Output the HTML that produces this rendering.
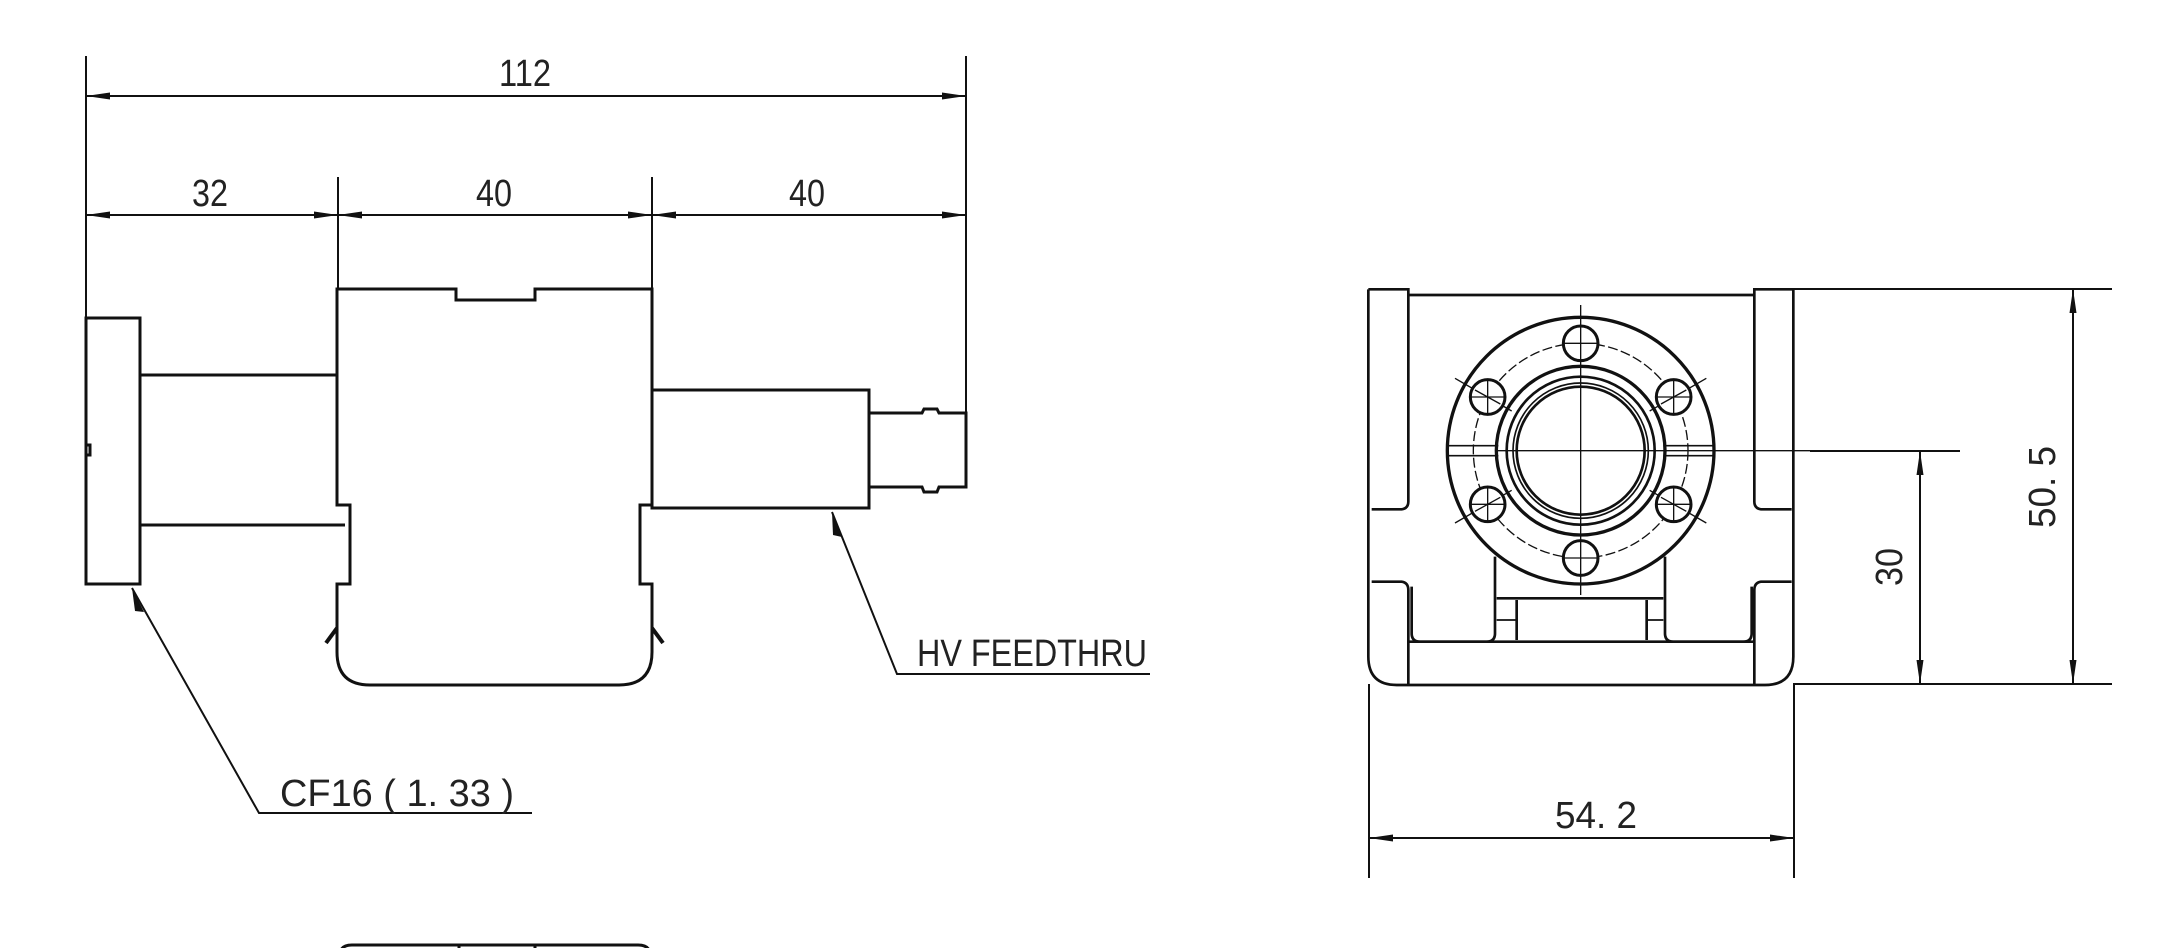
<!DOCTYPE html>
<html><head><meta charset="utf-8"><style>
html,body{margin:0;padding:0;background:#fff;}
svg{display:block;}
text{font-family:"Liberation Sans",sans-serif;fill:#222;}
</style></head><body>
<svg width="2180" height="948" viewBox="0 0 2180 948" xmlns="http://www.w3.org/2000/svg">
<defs>
<marker id="a" viewBox="0 0 24 8" refX="24" refY="4" markerWidth="24" markerHeight="8" markerUnits="userSpaceOnUse" orient="auto-start-reverse">
<path d="M0,0.5 L24,4 L0,7.5 Z" fill="#111"/></marker>
</defs>
<g stroke="#111" fill="none" stroke-width="2">
<line x1="86" y1="56" x2="86" y2="317"/>
<line x1="966" y1="56" x2="966" y2="487"/>
<line x1="86" y1="96" x2="966" y2="96" marker-start="url(#a)" marker-end="url(#a)"/>
<line x1="338" y1="177" x2="338" y2="289"/>
<line x1="652" y1="177" x2="652" y2="289"/>
<line x1="86" y1="215" x2="338" y2="215" marker-start="url(#a)" marker-end="url(#a)"/>
<line x1="338" y1="215" x2="652" y2="215" marker-start="url(#a)" marker-end="url(#a)"/>
<line x1="652" y1="215" x2="966" y2="215" marker-start="url(#a)" marker-end="url(#a)"/>
</g>
<g stroke="#111" fill="none" stroke-width="3">
<rect x="86" y="318" width="54" height="266"/>
<path d="M86,445 h4 v10 h-4"/>
<line x1="140" y1="375" x2="337" y2="375"/>
<line x1="140" y1="525" x2="345" y2="525"/>
<path d="M337,289 H456 V300 H535 V289 H652 V505 H640 V584 H652 V652 Q652,685 619,685 H370 Q337,685 337,652 V584 H350 V505 H337 Z"/>
<line x1="326" y1="643" x2="337" y2="628" stroke-width="4"/>
<line x1="663" y1="643" x2="652" y2="628" stroke-width="4"/>
<rect x="652" y="390" width="217" height="118"/>
<path d="M869,413 H922 L924,409 H937 L939,413 H966 V487 H939 L937,492 H924 L922,487 H869"/>
</g>
<g stroke="#111" fill="none" stroke-width="2">
<path d="M132,588 L259,813 H532"/>
<path d="M832,512 L897,674 H1150"/>
</g>
<path d="M132,588 l12,24 l-9,-1 z" fill="#111"/>
<path d="M832,512 l10,25 l-9,-2 z" fill="#111"/>
<g font-size="38">
<text x="525" y="86" text-anchor="middle" textLength="52" lengthAdjust="spacingAndGlyphs">112</text>
<text x="210" y="206" text-anchor="middle" textLength="36" lengthAdjust="spacingAndGlyphs">32</text>
<text x="494" y="206" text-anchor="middle" textLength="36" lengthAdjust="spacingAndGlyphs">40</text>
<text x="807" y="206" text-anchor="middle" textLength="36" lengthAdjust="spacingAndGlyphs">40</text>
<text x="917" y="666" textLength="230" lengthAdjust="spacingAndGlyphs">HV FEEDTHRU</text>
<text x="280" y="806" textLength="234" lengthAdjust="spacingAndGlyphs">CF16 ( 1. 33 )</text>
<text x="1596" y="828" text-anchor="middle" textLength="82" lengthAdjust="spacingAndGlyphs">54. 2</text>
<text transform="translate(2055,487) rotate(-90)" text-anchor="middle" textLength="82" lengthAdjust="spacingAndGlyphs">50. 5</text>
<text transform="translate(1902,567) rotate(-90)" text-anchor="middle" textLength="38" lengthAdjust="spacingAndGlyphs">30</text>
</g>
<g stroke="#111" fill="none" stroke-width="3">
<path d="M340,960 V955 Q340,945 352,945 H638 Q650,945 650,955 V960"/>
<line x1="459" y1="945" x2="459" y2="948"/>
<line x1="535" y1="945" x2="535" y2="948"/>
</g>
<g transform="translate(1350,280) scale(0.33333)" stroke="#111" fill="none" stroke-width="8">
<line x1="175" y1="45" x2="1213" y2="45"/>
<path d="M55,28 H175 V665 Q175,685 155,688 H65"/>
<path d="M65,905 H155 Q175,908 175,930 V1215"/>
<path d="M1330,28 H1213 V665 Q1213,685 1233,688 H1325"/>
<path d="M1325,905 H1233 Q1213,908 1213,930 V1215"/>
<path d="M55,28 V1130 Q55,1215 140,1215 H1245 Q1330,1215 1330,1130 V28"/>
<line x1="175" y1="1085" x2="1213" y2="1085"/>
<path d="M185,920 V1060 Q185,1085 210,1085 H410 Q435,1085 435,1060 V830"/>
<path d="M1205,920 V1060 Q1205,1085 1180,1085 H970 Q945,1085 945,1060 V830"/>
<line x1="440" y1="955" x2="940" y2="955"/>
<line x1="500" y1="960" x2="500" y2="1080"/>
<line x1="890" y1="960" x2="890" y2="1080"/>
<line x1="440" y1="1020" x2="500" y2="1020" stroke-width="5"/>
<line x1="890" y1="1020" x2="940" y2="1020" stroke-width="5"/>
<circle cx="692" cy="512" r="400" fill="#fff" stroke-width="10"/>
<circle cx="692" cy="512" r="322" stroke-width="4" stroke-dasharray="30 10"/>
<circle cx="692" cy="512" r="253" stroke-width="10"/>
<circle cx="692" cy="512" r="222"/>
<circle cx="692" cy="512" r="203" stroke-width="5"/>
<circle cx="692" cy="512" r="192"/>
<line x1="295" y1="497" x2="445" y2="497" stroke-width="5"/>
<line x1="295" y1="527" x2="445" y2="527" stroke-width="5"/>
<line x1="940" y1="497" x2="1090" y2="497" stroke-width="5"/>
<line x1="940" y1="527" x2="1090" y2="527" stroke-width="5"/>
<g stroke-width="4">
<line x1="692" y1="75" x2="692" y2="945"/>
<line x1="440" y1="512" x2="1380" y2="512"/>
<line x1="315" y1="295" x2="485" y2="393"/>
<line x1="315" y1="729" x2="485" y2="631"/>
<line x1="1069" y1="295" x2="899" y2="393"/>
<line x1="1069" y1="729" x2="899" y2="631"/>
</g>
<g fill="#fff" stroke-width="9">
<circle cx="692" cy="190" r="52"/><circle cx="692" cy="834" r="52"/>
<circle cx="413" cy="351" r="52"/><circle cx="971" cy="351" r="52"/>
<circle cx="413" cy="673" r="52"/><circle cx="971" cy="673" r="52"/>
</g>
<g stroke-width="4">
<path d="M692,140v100M642,190h100M692,784v100M642,834h100"/>
<path d="M413,301v100M363,351h100M971,301v100M921,351h100"/>
<path d="M413,623v100M363,673h100M971,623v100M921,673h100"/>
<path d="M375,330l76,42M375,694l76,-42M933,372l76,-42M933,652l76,42"/>
</g>
</g>
<g stroke="#111" fill="none" stroke-width="2">
<line x1="1793" y1="289" x2="2112" y2="289"/>
<line x1="1793" y1="684" x2="2112" y2="684"/>
<line x1="2073" y1="289" x2="2073" y2="684" marker-start="url(#a)" marker-end="url(#a)"/>
<line x1="1810" y1="451" x2="1960" y2="451"/>
<line x1="1793" y1="684" x2="1960" y2="684"/>
<line x1="1920" y1="451" x2="1920" y2="684" marker-start="url(#a)" marker-end="url(#a)"/>
<line x1="1369" y1="684" x2="1369" y2="878"/>
<line x1="1794" y1="684" x2="1794" y2="878"/>
<line x1="1369" y1="838" x2="1794" y2="838" marker-start="url(#a)" marker-end="url(#a)"/>
</g>
</svg>
</body></html>
